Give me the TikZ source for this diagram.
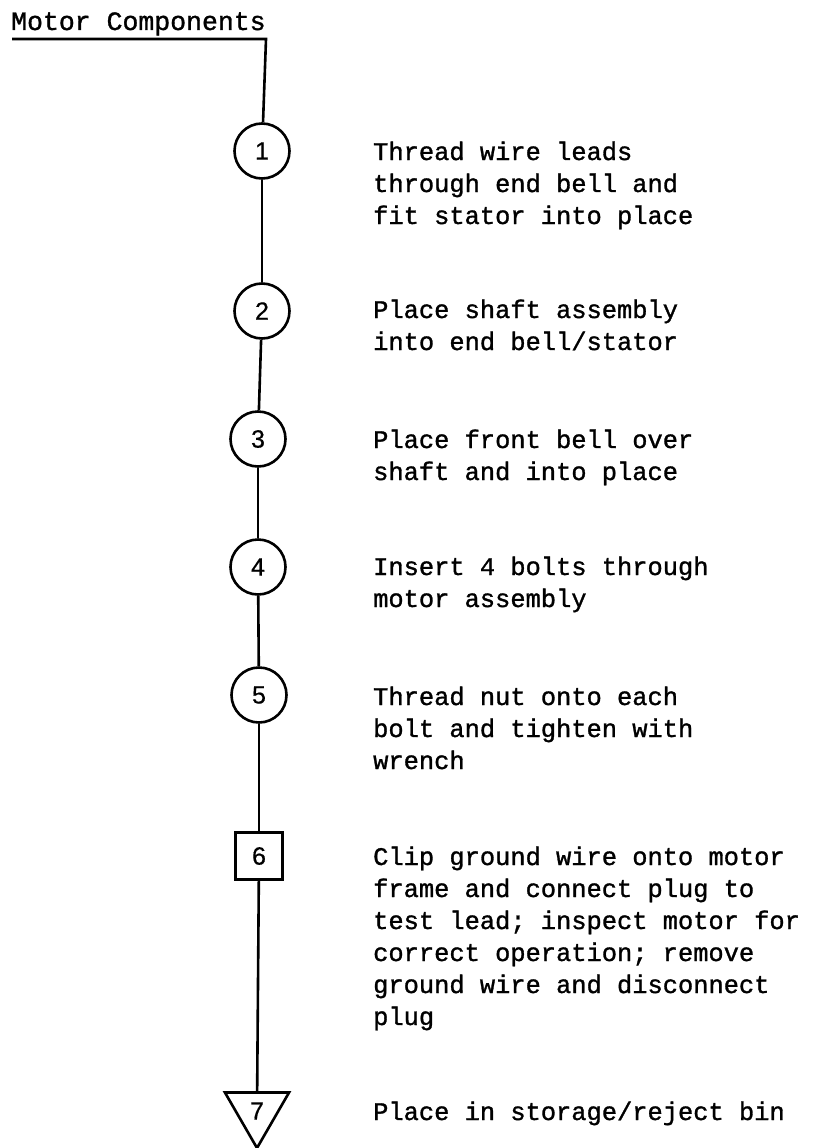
\documentclass[tikz,border=0pt]{standalone}
\usepackage{fontspec}
\newfontfamily\twfont[FakeBold=1.2]{Liberation Mono}
\newfontfamily\numfont[FakeBold=0.6]{Liberation Sans}
\usetikzlibrary{shapes.geometric}
\tikzset{
  flowline/.style={line width=2.6pt, line join=miter},
  numlabel/.style={font=\numfont\fontsize{25}{27}\selectfont},
  opcircle/.style={circle, draw, line width=2.6pt, minimum size=55pt, inner sep=0pt, numlabel},
  inspbox/.style={rectangle, draw, line width=2.6pt, minimum size=47pt, inner sep=0pt, numlabel},
  storetri/.style={regular polygon, regular polygon sides=3, shape border rotate=180, draw, line width=2.6pt, minimum size=74pt, inner sep=0pt, numlabel},
  stepdesc/.style={anchor=base west, inner sep=0pt, font=\twfont\fontsize{25.4}{32}\selectfont},
  titletext/.style={anchor=base west, inner sep=0pt, font=\twfont\fontsize{26.5}{30}\selectfont},
}
\newcommand{\descblock}[1]{\begin{tabular}[t]{@{}l@{}}#1\end{tabular}}
\begin{document}
\begin{tikzpicture}[x=1pt,y=-1pt]
\useasboundingbox (0,0) rectangle (839,1148);
\node[titletext] (title) at (11,30) {Motor Components};
\coordinate (ulstart) at (12,39);
\coordinate (corner) at (266,39);

\node[opcircle] (n1) at (262,151) {1};
\node[opcircle] (n2) at (262,311) {2};
\node[opcircle] (n3) at (258,439) {3};
\node[opcircle] (n4) at (258,567) {4};
\node[opcircle] (n5) at (259,695) {5};
\node[inspbox]  (n6) at (259,856) {6};
\node[storetri] (n7) at (257,1111) {7};

\draw[flowline] (ulstart) -- (corner) -- (n1);
\draw[flowline] (n1) -- (n2);
\draw[flowline] (n2) -- (n3);
\draw[flowline] (n3) -- (n4);
\draw[flowline] (n4) -- (n5);
\draw[flowline] (n5) -- (n6);
\draw[flowline] (n6) -- (n7);

\node[stepdesc] (d1) at (373,160) {\descblock{Thread wire leads\\through end bell and\\fit stator into place}};
\node[stepdesc] (d2) at (373,318) {\descblock{Place shaft assembly\\into end bell/stator}};
\node[stepdesc] (d3) at (373,448) {\descblock{Place front bell over\\shaft and into place}};
\node[stepdesc] (d4) at (373,575) {\descblock{Insert 4 bolts through\\motor assembly}};
\node[stepdesc] (d5) at (373,705) {\descblock{Thread nut onto each\\bolt and tighten with\\wrench}};
\node[stepdesc] (d6) at (373,865) {\descblock{Clip ground wire onto motor\\frame and connect plug to\\test lead; inspect motor for\\correct operation; remove\\ground wire and disconnect\\plug}};
\node[stepdesc] (d7) at (373,1120) {\descblock{Place in storage/reject bin}};
\end{tikzpicture}
\end{document}
